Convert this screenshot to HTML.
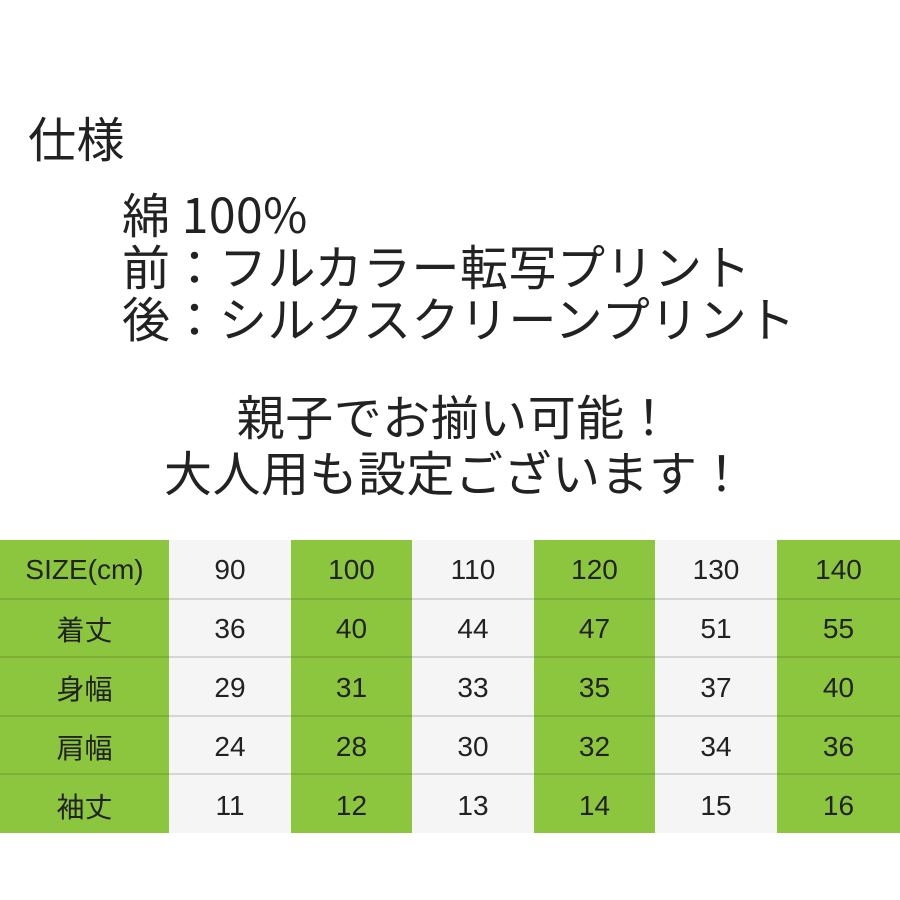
<!DOCTYPE html>
<html><head><meta charset="utf-8"><style>
body{margin:0;width:900px;height:900px;background:#fff;position:relative;overflow:hidden;font-family:"Noto Sans CJK JP","Liberation Sans",sans-serif;color:#222}
.t{position:absolute;font-size:48px;line-height:52px;white-space:nowrap;letter-spacing:0.5px}
table{position:absolute;left:0;top:540px;border-collapse:collapse;width:900px;table-layout:fixed}
td{height:58.6px;padding:3px 0 0 0;box-sizing:border-box;text-align:center;font-size:28px;font-family:"Liberation Sans","Noto Sans CJK JP",sans-serif;border-bottom:2px solid #d6d6d6;color:#222}
tr:last-child td{border-bottom:none;height:59px}
.g{background:#8cc63f;border-bottom-color:#7cae38}
.w{background:#f5f5f5}
</style></head><body>
<div class="t" style="left:28px;top:110px">仕様</div>
<div class="t" style="left:122px;top:186px">綿 100%<br>前：フルカラー転写プリント<br>後：シルクスクリーンプリント</div>
<div class="t" style="left:0;width:910px;text-align:center;top:386px;line-height:56px">親子でお揃い可能！<br>大人用も設定ございます！</div>
<table>
<colgroup><col style="width:169px"><col style="width:122px"><col style="width:121px"><col style="width:122px"><col style="width:121px"><col style="width:122px"><col style="width:123px"></colgroup>
<tr><td class="g">SIZE(cm)</td><td class="w">90</td><td class="g">100</td><td class="w">110</td><td class="g">120</td><td class="w">130</td><td class="g">140</td></tr>
<tr><td class="g">着丈</td><td class="w">36</td><td class="g">40</td><td class="w">44</td><td class="g">47</td><td class="w">51</td><td class="g">55</td></tr>
<tr><td class="g">身幅</td><td class="w">29</td><td class="g">31</td><td class="w">33</td><td class="g">35</td><td class="w">37</td><td class="g">40</td></tr>
<tr><td class="g">肩幅</td><td class="w">24</td><td class="g">28</td><td class="w">30</td><td class="g">32</td><td class="w">34</td><td class="g">36</td></tr>
<tr><td class="g">袖丈</td><td class="w">11</td><td class="g">12</td><td class="w">13</td><td class="g">14</td><td class="w">15</td><td class="g">16</td></tr>
</table>
</body></html>
